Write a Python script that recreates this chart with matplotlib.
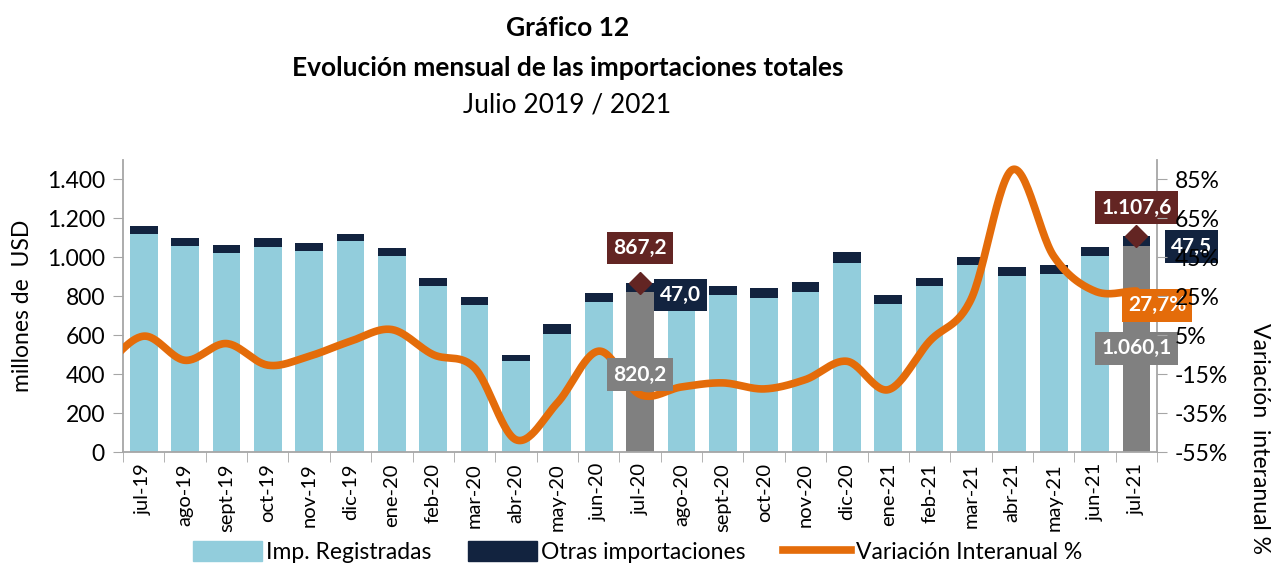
import numpy as np
import matplotlib
matplotlib.use("Agg")
import matplotlib.pyplot as plt
from matplotlib.patches import Patch
from matplotlib.lines import Line2D

plt.rcParams['font.family'] = ['Lato', 'DejaVu Sans']

meses = ['jul-19', 'ago-19', 'sept-19', 'oct-19', 'nov-19', 'dic-19', 'ene-20',
         'feb-20', 'mar-20', 'abr-20', 'may-20', 'jun-20', 'jul-20', 'ago-20',
         'sept-20', 'oct-20', 'nov-20', 'dic-20', 'ene-21', 'feb-21', 'mar-21',
         'abr-21', 'may-21', 'jun-21', 'jul-21']

# millones de USD
registradas = [1121, 1057, 1023, 1054, 1030, 1083, 1008, 853, 754, 468, 608, 773,
               820.2, 787, 805, 793, 821, 972, 761, 852, 960, 903, 915, 1009, 1060.1]
otras = [42, 40, 39, 43, 41, 39, 42, 43, 43, 30, 50, 46,
         47.0, 43, 47, 50, 51, 54, 44, 44, 42, 45, 45, 45, 47.5]

# variación interanual %, el primer valor es jun-19 (fuera del gráfico)
var_jun19 = -12.0
variacion = [4.5, -7.9, 0.7, -10.4, -5.8, 1.9, 7.9, -5.0, -11.8, -48.7, -29.8, -3.2,
             -25.5, -21.6, -19.5, -22.6, -17.8, -8.4, -23.0, 1.9, 23.3, 90.0, 45.6,
             27.6, 27.7]

c_azul = '#92CDDC'
c_navy = '#12233F'
c_gris = '#808080'
c_nar = '#E46C0A'
c_rojo = '#632523'
c_eje = '#A6A6A6'


def suavizar(xs, ys, n=30):
    # curva tipo Catmull-Rom, parecida a la linea suavizada de Excel
    xs = np.asarray(xs, float)
    ys = np.asarray(ys, float)
    px = np.concatenate([[2 * xs[0] - xs[1]], xs, [2 * xs[-1] - xs[-2]]])
    py = np.concatenate([[2 * ys[0] - ys[1]], ys, [2 * ys[-1] - ys[-2]]])
    ox, oy = [], []
    t = np.linspace(0, 1, n)
    for i in range(1, len(px) - 2):
        p0, p1, p2, p3 = py[i - 1], py[i], py[i + 1], py[i + 2]
        q0, q1, q2, q3 = px[i - 1], px[i], px[i + 1], px[i + 2]
        b1y, b2y = p1 + (p2 - p0) / 6, p2 - (p3 - p1) / 6
        b1x, b2x = q1 + (q2 - q0) / 6, q2 - (q3 - q1) / 6
        ox.extend((1 - t) ** 3 * q1 + 3 * (1 - t) ** 2 * t * b1x + 3 * (1 - t) * t ** 2 * b2x + t ** 3 * q2)
        oy.extend((1 - t) ** 3 * p1 + 3 * (1 - t) ** 2 * t * b1y + 3 * (1 - t) * t ** 2 * b2y + t ** 3 * p2)
    return np.array(ox), np.array(oy)


x = np.arange(len(meses))
destacados = [12, 24]
col_reg = [c_gris if i in destacados else c_azul for i in x]
total = np.array(registradas) + np.array(otras)

fig = plt.figure(figsize=(12.75, 5.66), dpi=100)
ax = fig.add_axes([0.0965, 0.2014, 0.811, 0.516])
ax2 = ax.twinx()

ax.bar(x, registradas, width=0.67, color=col_reg, zorder=2)
ax.bar(x, otras, width=0.67, bottom=registradas, color=c_navy, zorder=2)

ax.set_xlim(-0.5, len(meses) - 0.5)
ax.set_ylim(0, 1500)
ax.set_yticks(range(0, 1401, 200))
ax.set_yticklabels([f'{v:,}'.replace(',', '.') for v in range(0, 1401, 200)], fontsize=16.5)
ax.set_xticks(x)
ax.set_xticklabels(meses, rotation=90, fontsize=14.5)
ax.set_xticks(np.arange(-0.5, len(meses), 1), minor=True)
ax.tick_params(axis='x', which='major', length=0, pad=8)
ax.tick_params(axis='x', which='minor', length=7, color=c_eje)
ax.tick_params(axis='y', length=7, color=c_eje, pad=6)
for s in ['top', 'right']:
    ax.spines[s].set_visible(False)
ax.spines['left'].set_color(c_eje)
ax.spines['bottom'].set_color(c_eje)
ax.spines['left'].set_linewidth(1.3)
ax.spines['bottom'].set_linewidth(1.3)

ax2.set_ylim(-55, 95)
ax2.set_yticks(range(-55, 86, 20))
ax2.set_yticklabels([f'{v}%' for v in range(-55, 86, 20)], fontsize=16.5)
ax2.tick_params(axis='y', length=7, color=c_eje, pad=6)
for s in ['top', 'left', 'bottom']:
    ax2.spines[s].set_visible(False)
ax2.spines['right'].set_color(c_eje)
ax2.spines['right'].set_linewidth(1.3)
# en el original los porcentajes del eje quedan encima de las cajas
ax2.yaxis.set_zorder(10)

lx, ly = suavizar(np.arange(-1, len(meses)), [var_jun19] + variacion)
ax2.plot(lx, ly, color=c_nar, lw=5.5, solid_capstyle='round', zorder=3, clip_on=True)
ax2.set_xlim(-0.5, len(meses) - 0.5)
ax.set_zorder(ax2.get_zorder() - 1)
ax.patch.set_visible(False)

# etiquetas de los meses destacados (dibujadas sobre la linea)
for i in destacados:
    ax2.plot(i, total[i], marker='D', ms=11, color=c_rojo, zorder=5,
             transform=ax.transData, clip_on=False)


def caja(xx, yy, txt, fc, tr):
    ax2.text(xx, yy, txt, ha='center', va='center', color='white', fontsize=15,
             fontweight='bold', zorder=6, transform=tr,
             bbox=dict(boxstyle='square,pad=0.3', fc=fc, ec='none'))


def fmt(v):
    s = f'{v:,.1f}'
    return s.replace(',', 'X').replace('.', ',').replace('X', '.')


i = 12
caja(i, total[i] + 180, fmt(total[i]), c_rojo, ax.transData)
caja(i + 0.98, total[i] - 62, fmt(otras[i]), c_navy, ax.transData)
caja(i, 398, fmt(registradas[i]), c_gris, ax.transData)
i = 24
caja(i, total[i] + 148, fmt(total[i]), c_rojo, ax.transData)
caja(i + 1.33, total[i] - 52, fmt(otras[i]), c_navy, ax.transData)
caja(i, 532, fmt(registradas[i]), c_gris, ax.transData)
caja(i + 0.5, variacion[i] - 7.4, fmt(variacion[i]) + '%', c_nar, ax2.transData)

ax.set_ylabel('millones de  USD', fontsize=16.5, labelpad=10)
fig.text(0.988, 0.225, 'Variación  interanual %', rotation=270, fontsize=16.5,
         ha='center', va='center')

fig.text(0.445, 0.95, 'Gráfico 12', ha='center', va='center', fontsize=19, fontweight='bold')
fig.text(0.445, 0.88, 'Evolución mensual de las importaciones totales', ha='center',
         va='center', fontsize=19, fontweight='bold')
fig.text(0.445, 0.815, 'Julio 2019 / 2021', ha='center', va='center', fontsize=19)

handles = [Patch(color=c_azul, label='Imp. Registradas'),
           Patch(color=c_navy, label='Otras importaciones'),
           Line2D([], [], color=c_nar, lw=5.5, label='Variación Interanual %')]
fig.legend(handles=handles, loc='center', bbox_to_anchor=(0.5, 0.025), ncol=3,
           frameon=False, fontsize=16.5, handlelength=3.0, handleheight=1.0,
           columnspacing=1.6, handletextpad=0.2, borderaxespad=0)

fig.savefig('out.png', dpi=100)
